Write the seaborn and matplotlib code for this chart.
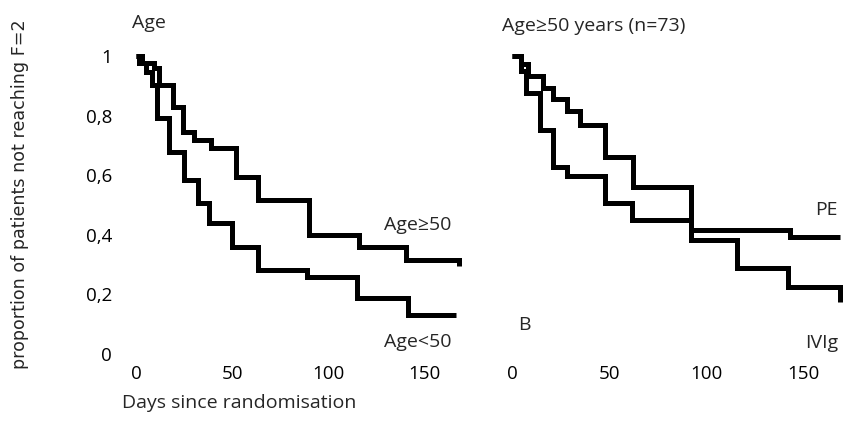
import matplotlib
matplotlib.use('Agg')
import matplotlib.pyplot as plt
import seaborn as sns
import pandas as pd

# ---- data ----
age_ge50_days = [0, 3, 9.5, 12, 19, 24.5, 30, 39, 52, 63.5, 90, 116, 140, 167.5]
age_ge50_surv = [1.0, 0.977, 0.96, 0.903, 0.829, 0.745, 0.718, 0.691, 0.594, 0.517, 0.399, 0.359, 0.315, 0.295]

age_lt50_days = [0, 1.7, 5.3, 8.4, 11, 17, 25, 32, 38, 50, 63.5, 89, 115, 141, 166]
age_lt50_surv = [1.0, 0.977, 0.946, 0.903, 0.792, 0.678, 0.584, 0.507, 0.44, 0.359, 0.282, 0.258, 0.188, 0.131, 0.131]

pe_days = [0, 4.8, 8, 16, 21, 28.5, 35, 48, 62.5, 92, 143, 169]
pe_surv = [1.0, 0.973, 0.934, 0.894, 0.856, 0.815, 0.768, 0.661, 0.56, 0.416, 0.393, 0.393]

ivig_days = [0, 4.8, 7, 14.6, 21.3, 28.5, 48, 62, 92, 116, 142, 169]
ivig_surv = [1.0, 0.95, 0.876, 0.752, 0.628, 0.597, 0.507, 0.45, 0.383, 0.289, 0.225, 0.174]

x_ticks = [0, 50, 100, 150]
y_ticks = [0, 0.2, 0.4, 0.6, 0.8, 1.0]
y_tick_labels = ['0', '0,2', '0,4', '0,6', '0,8', '1']

left_title = 'Age'
right_title = 'Age\u226550 years (n=73)'
y_label = 'proportion of patients not reaching F=2'
x_label = 'Days since randomisation'

# ---- style ----
sns.set_theme(style='white')
plt.rcParams['font.family'] = ['Open Sans', 'DejaVu Sans']

W, H = 846, 428
fig = plt.figure(figsize=(W / 100, H / 100), dpi=100)
fig.patch.set_facecolor('white')

def px_axes(x0, x1, ybot, ytop):
    return fig.add_axes([x0 / W, 1 - ybot / H, (x1 - x0) / W, (ybot - ytop) / H])

def ftext(x, y, s, **kw):
    fig.text(x / W, 1 - y / H, s, **kw)

YLIM = (-0.01, 1.05)
ybot = 354 + 0.01 * 298
ytop = 354 - 1.05 * 298

ax1 = px_axes(136 - 3 * 1.926, 136 + 172 * 1.926, ybot, ytop)
ax2 = px_axes(512 - 3 * 1.942, 512 + 170 * 1.942, ybot, ytop)

lw = 3.6
def km(ax, days, surv):
    df = pd.DataFrame({'day': days, 'surv': surv})
    sns.lineplot(data=df, x='day', y='surv', ax=ax, color='black', lw=lw,
                 drawstyle='steps-post', estimator=None, sort=True,
                 solid_joinstyle='miter', solid_capstyle='butt', clip_on=False)

km(ax1, age_ge50_days, age_ge50_surv)
km(ax1, age_lt50_days, age_lt50_surv)
km(ax2, pe_days, pe_surv)
km(ax2, ivig_days, ivig_surv)

FS = 14
for ax, xl in ((ax1, (-3, 172)), (ax2, (-3, 170))):
    ax.set_xlim(*xl)
    ax.set_ylim(*YLIM)
    ax.set_xticks(x_ticks)
    ax.set_xticklabels([str(t) for t in x_ticks])
    ax.set_xlabel('')
    ax.set_ylabel('')
    for s in ax.spines.values():
        s.set_visible(False)
    ax.tick_params(axis='both', length=0, labelsize=13.5, colors='black')
    ax.tick_params(axis='x', pad=6)
    ax.set_facecolor('none')

ax1.set_yticks(y_ticks)
ax1.set_yticklabels(y_tick_labels)
ax1.tick_params(axis='y', pad=13)
ax2.set_yticks([])

# texts
ftext(132, 28, left_title, fontsize=FS, ha='left', va='baseline')
ftext(502, 31, right_title, fontsize=FS, ha='left', va='baseline')
ftext(122, 408, x_label, fontsize=FS, ha='left', va='baseline')
ftext(20, 194, y_label, fontsize=12.6, ha='center', va='center', rotation=90,
      family=['DejaVu Sans'])

ftext(451, 230, 'Age\u226550', fontsize=FS, ha='right', va='baseline')
ftext(451, 347, 'Age<50', fontsize=FS, ha='right', va='baseline')
ftext(838, 215, 'PE', fontsize=FS, ha='right', va='baseline')
ftext(838, 348, 'IVIg', fontsize=FS, ha='right', va='baseline')
ftext(518, 330, 'B', fontsize=FS, ha='left', va='baseline')

fig.savefig('out.png', dpi=100, facecolor='white')
